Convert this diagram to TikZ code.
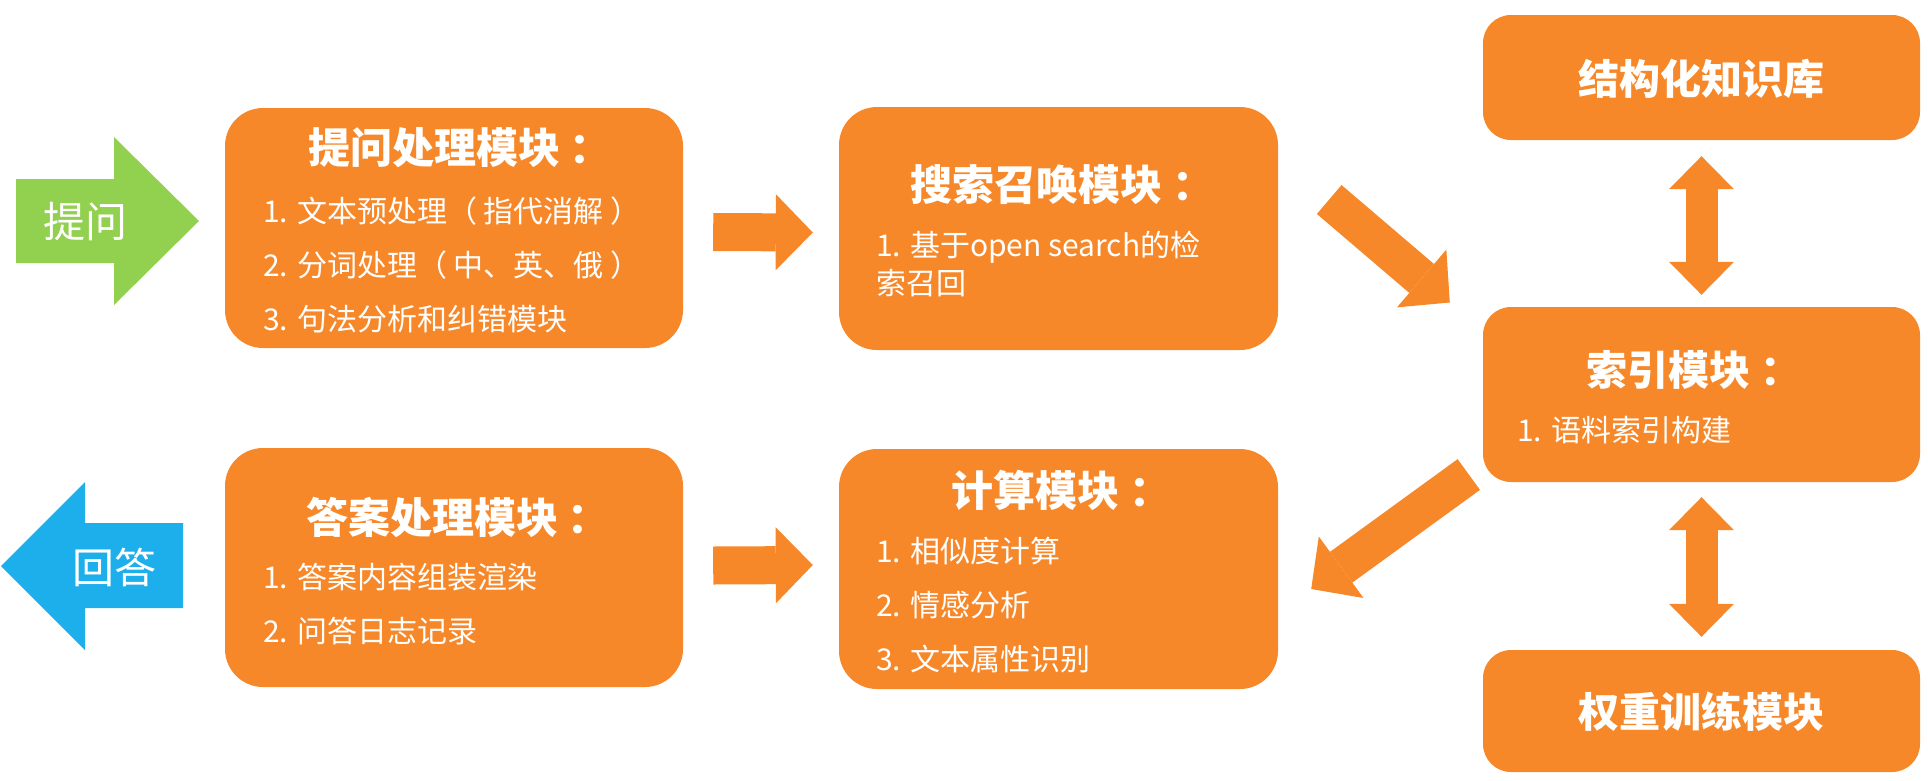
\documentclass[tikz,border=0pt]{standalone}
\usepackage{fontspec}
\setmainfont{Noto Sans CJK SC}
\usepackage{tikz}
\usetikzlibrary{arrows.meta,positioning,calc}
\definecolor{modorange}{HTML}{F78829}
\definecolor{askgreen}{HTML}{92D050}
\definecolor{ansblue}{HTML}{1DAEEC}
\tikzset{
  modbox/.style={fill=modorange, rounded corners=38pt, inner sep=0pt},
  sidebox/.style={fill=modorange, rounded corners=28pt, inner sep=0pt, minimum width=437pt},
  title/.style={text=white, inner sep=0pt, font=\fontsize{42}{46}\selectfont\bfseries},
  sidetitle/.style={text=white, inner sep=0pt, font=\fontsize{41}{46}\selectfont\bfseries},
  items/.style={text=white, align=left, anchor=west, inner sep=0pt, font=\fontsize{30}{54}\selectfont},
  iotext/.style={text=white, inner sep=0pt, font=\fontsize{42}{46}\selectfont},
  flow/.style={-{Triangle[length=37pt, width=76pt, line width=0pt]}, line width=38pt, draw=modorange},
  both/.style={{Triangle[length=33pt, width=65pt, line width=0pt]}-{Triangle[length=33pt, width=65pt, line width=0pt]}, line width=32pt, draw=modorange}
}
\newcommand{\colonsp}{\hspace{10pt}：}
\begin{document}
\begin{tikzpicture}[x=1pt, y=-1pt]
  \useasboundingbox (0,0) rectangle (1928,780);

  \fill[askgreen] (16,179) -- (114,179) -- (114,137) -- (199,221) -- (114,305) -- (114,263) -- (16,263) -- cycle;
  \node[iotext] (askt) at (85,222) {提问};
  \fill[ansblue] (183,523) -- (85,523) -- (85,482) -- (1,566) -- (85,650) -- (85,608) -- (183,608) -- cycle;
  \node[iotext] (anst) at (114,567) {回答};

  \node[modbox, minimum width=458pt, minimum height=240pt] (q) at (454,228) {};
  \node[title] (qt) at (460,148) {提问处理模块\colonsp};
  \node[items] (qi) at (263,265) {1. 文本预处理（ 指代消解 ）\\2. 分词处理（ 中、英、俄 ）\\3. 句法分析和纠错模块};

  \node[modbox, minimum width=439pt, minimum height=243pt] (s) at (1058.5,228.5) {};
  \node[title] (st) at (1062,185) {搜索召唤模块\colonsp};
  \node[items, font=\fontsize{30}{38}\selectfont] (si) at (876,264) {1. 基于open search的检\\索召回};

  \node[modbox, minimum width=458pt, minimum height=239pt] (a) at (454,567.5) {};
  \node[title] (at) at (458,517) {答案处理模块\colonsp};
  \node[items] (ai) at (263,604) {1. 答案内容组装渲染\\2. 问答日志记录};

  \node[modbox, minimum width=439pt, minimum height=240pt] (c) at (1058.5,569) {};
  \node[title] (ct) at (1061,490) {计算模块\colonsp};
  \node[items] (ci) at (876,605) {1. 相似度计算\\2. 情感分析\\3. 文本属性识别};

  \node[sidebox, minimum height=125pt] (kb) at (1701.5,77.5) {};
  \node[sidetitle] (kbt) at (1701,79) {结构化知识库};
  \node[sidebox, minimum height=175pt] (idx) at (1701.5,394.5) {};
  \node[sidetitle] (idxt) at (1694,370) {索引模块\colonsp};
  \node[items] (idxi) at (1517,430) {1. 语料索引构建};
  \node[sidebox, minimum height=122pt] (wt) at (1701.5,711) {};
  \node[sidetitle] (wtt) at (1701,712) {权重训练模块};

  \draw[flow] ($(q.east)+(30,4)$) -- ($(s.west)+(-26,4)$);
  \draw[flow] ($(a.east)+(30,-2)$) -- ($(c.west)+(-26,-4)$);
  \draw[flow] ($(s.east)+(51,-29)$) -- ($(idx.west)+(-33,-92)$);
  \draw[flow] ($(idx.west)+(-14,80)$) -- ($(c.east)+(33,20)$);
  \draw[both] ($(kb.south)+(0,16)$) -- ($(idx.north)+(0,-12)$);
  \draw[both] ($(idx.south)+(0,15)$) -- ($(wt.north)+(0,-13)$);
\end{tikzpicture}
\end{document}
